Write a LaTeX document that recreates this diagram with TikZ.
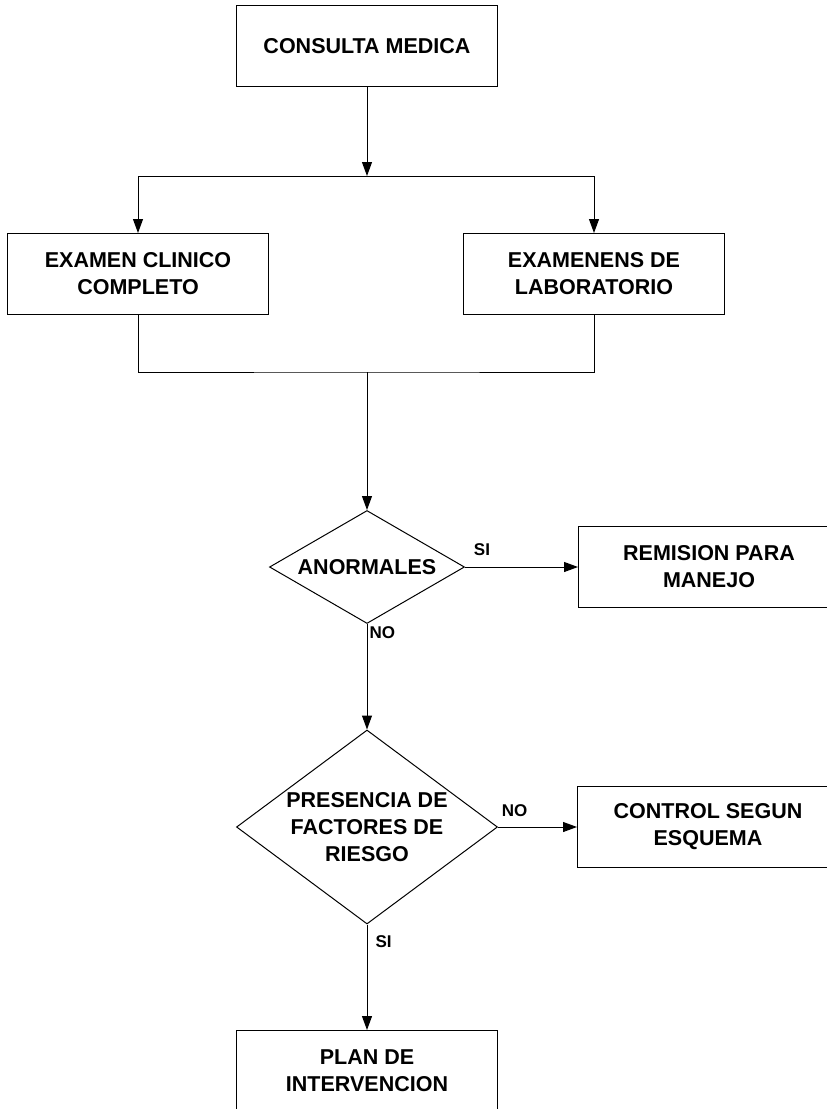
\documentclass[tikz,border=0pt]{standalone}
\usepackage{fontspec}
\setmainfont{Liberation Sans}
\usetikzlibrary{shapes.geometric,arrows.meta,positioning}

\begin{document}
\begin{tikzpicture}[x=1pt,y=-1pt,line width=1pt,
caja/.style={draw,rectangle,minimum width=261pt,minimum height=81pt,inner sep=0pt,align=center,font=\fontsize{21.5}{27}\selectfont\bfseries},
rombo/.style={draw,diamond,inner sep=0pt,align=center,font=\fontsize{21.5}{27}\selectfont\bfseries},
etiq/.style={inner sep=2pt,font=\fontsize{17}{20}\selectfont\bfseries},
flecha/.style={-{Triangle[length=14pt,width=10pt]}}]
\clip (0,0) rectangle (827,1109);
\node[caja] (1) at (367,46) {CONSULTA MEDICA};
\node[caja] (2) at (138,274) {EXAMEN CLINICO\\COMPLETO};
\node[caja] (3) at (594,274) {EXAMENENS DE\\LABORATORIO};
\node[rombo,minimum width=195pt,minimum height=113pt,aspect=1.73] (4) at (367,567) {ANORMALES};
\node[caja] (5) at (709,567) {REMISION PARA\\MANEJO};
\node[rombo,minimum width=261pt,minimum height=194pt,aspect=1.345] (6) at (367,827) {PRESENCIA DE\\FACTORES DE\\RIESGO};
\node[caja] (7) at (708,827) {CONTROL SEGUN\\ESQUEMA};
\node[caja] (8) at (367,1071) {PLAN DE\\INTERVENCION};
\coordinate (a) at (367,176);
\coordinate (b) at (367,372);
\draw[flecha] (1)--(a);
\draw[flecha] (a)-|(2);
\draw[flecha] (a)-|(3);
\draw (2)|-(b)-|(3);
\draw[flecha] (b)--(4);
\draw[flecha] (4)--node[etiq,pos=0.15,above=9pt]{SI}(5);
\draw[flecha] (4)--node[etiq,pos=0.08,right=0pt]{NO}(6);
\draw[flecha] (6)--node[etiq,pos=0.21,above=8pt]{NO}(7);
\draw[flecha] (6)--node[etiq,pos=0.16,right=6pt]{SI}(8);
\end{tikzpicture}
\end{document}
